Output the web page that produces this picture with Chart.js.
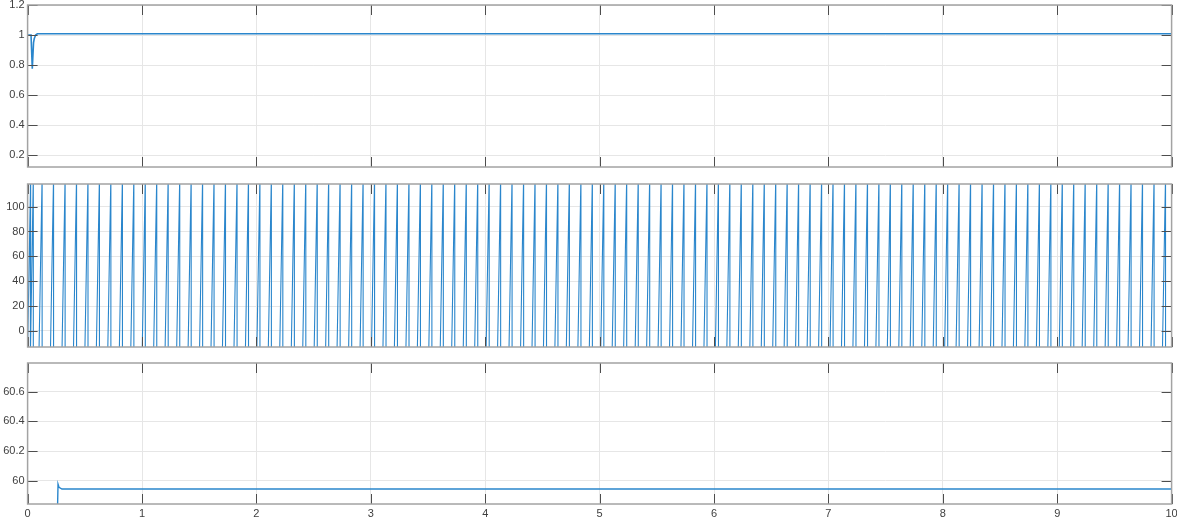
<!DOCTYPE html>
<html>
<head>
<meta charset="utf-8">
<script src="https://cdn.jsdelivr.net/npm/chart.js@4/dist/chart.umd.min.js"></script>
<style>
  html, body { margin: 0; padding: 0; background: #fff; }
  body { width: 1177px; height: 523px; position: relative; overflow: hidden; }
  .pane { position: absolute; left: 0; width: 1177px; }
</style>
</head>
<body>
<div class="pane" style="top:0;height:172px"><canvas id="c1"></canvas></div>
<div class="pane" style="top:178px;height:174px"><canvas id="c2"></canvas></div>
<div class="pane" style="top:356px;height:167px"><canvas id="c3"></canvas></div>
<script>
// x axis shared by all three scopes (seconds)
const xTicks = [0, 1, 2, 3, 4, 5, 6, 7, 8, 9, 10];

// top scope: per-unit signal, dips at start then settles just above 1
const sig1T = [0, 0.03, 0.041, 0.052, 0.058, 0.07, 0.085, 10];
const sig1V = [1.0, 1.0, 0.775, 0.95, 0.975, 1.0, 1.008, 1.008];
const yTicks1 = [0.2, 0.4, 0.6, 0.8, 1, 1.2];

// middle scope: sawtooth, times where each ramp reaches the top and wraps
const wrapTimes = [0.027, 0.05, 0.127, 0.227, 0.328, 0.428, 0.528, 0.628, 0.728, 0.829, 0.929,
  1.029, 1.129, 1.229, 1.330, 1.430, 1.530, 1.630, 1.730, 1.831, 1.931,
  2.031, 2.131, 2.231, 2.332, 2.432, 2.532, 2.632, 2.732, 2.833, 2.933,
  3.033, 3.133, 3.233, 3.334, 3.434, 3.534, 3.634, 3.734, 3.835, 3.935,
  4.035, 4.135, 4.235, 4.336, 4.436, 4.536, 4.636, 4.736, 4.837, 4.937,
  5.037, 5.137, 5.237, 5.338, 5.438, 5.538, 5.638, 5.738, 5.839, 5.939,
  6.039, 6.139, 6.239, 6.340, 6.440, 6.540, 6.640, 6.740, 6.841, 6.941,
  7.041, 7.141, 7.241, 7.342, 7.442, 7.542, 7.642, 7.742, 7.843, 7.943,
  8.043, 8.143, 8.243, 8.344, 8.444, 8.544, 8.644, 8.744, 8.845, 8.945,
  9.045, 9.145, 9.245, 9.346, 9.446, 9.546, 9.646, 9.746, 9.847, 9.947];
const rampLow = -20;
const rampHigh = 125;
const rampRise = 0.028;
const yTicks2 = [0, 20, 40, 60, 80, 100];

// bottom scope: frequency, appears at ~0.25 s with a small overshoot
const sig3T = [0.253, 0.266, 0.275, 0.30, 10];
const sig3V = [59.5, 59.977, 59.955, 59.944, 59.944];
const yTicks3 = [60, 60.2, 60.4, 60.6];

const BLUE = '#2a86cc';
const FONT = { family: "'Liberation Sans', Arial, sans-serif", size: 11 };

// MATLAB style: full box, ticks pointing inward on every side
const scopeBox = {
  id: 'scopeBox',
  afterDraw(chart) {
    const { ctx, chartArea: a, scales } = chart;
    ctx.save();
    ctx.strokeStyle = '#4d4d4d';
    ctx.lineWidth = 1;
    ctx.beginPath();
    for (const t of scales.x.ticks) {
      const px = Math.round(scales.x.getPixelForValue(t.value)) + 0.5;
      ctx.moveTo(px, a.top); ctx.lineTo(px, a.top + 10);
      ctx.moveTo(px, a.bottom); ctx.lineTo(px, a.bottom - 10);
    }
    for (const t of scales.y.ticks) {
      const py = Math.round(scales.y.getPixelForValue(t.value)) + 0.5;
      ctx.moveTo(a.left, py); ctx.lineTo(a.left + 10, py);
      ctx.moveTo(a.right, py); ctx.lineTo(a.right - 10, py);
    }
    ctx.stroke();
    ctx.strokeStyle = '#a3a3a3';
    ctx.lineWidth = 1.5;
    ctx.strokeRect(a.left, a.top, a.right - a.left, a.bottom - a.top);
    ctx.restore();
  }
};

function makeScope(id, points, yMin, yMax, yTicks, opts) {
  return new Chart(document.getElementById(id), {
    type: 'line',
    data: {
      datasets: [{
        data: points,
        borderColor: BLUE,
        borderWidth: opts.lineWidth,
        pointRadius: 0,
        tension: 0,
        fill: false
      }]
    },
    options: {
      responsive: true,
      maintainAspectRatio: false,
      animation: false,
      events: [],
      layout: { padding: { top: opts.padTop, bottom: opts.padBottom, left: 0, right: 5.4 } },
      plugins: { legend: { display: false }, tooltip: { enabled: false } },
      scales: {
        x: {
          type: 'linear',
          min: 0,
          max: 10,
          afterBuildTicks: (s) => { s.ticks = xTicks.map((v) => ({ value: v })); },
          afterFit: (s) => { s.height = opts.xHeight; s.paddingLeft = 0; s.paddingRight = 0; },
          grid: { color: '#e6e6e6', drawTicks: false },
          border: { display: false },
          ticks: { display: opts.showX, color: '#404040', font: FONT, padding: 3, maxRotation: 0 }
        },
        y: {
          min: yMin,
          max: yMax,
          afterBuildTicks: (s) => { s.ticks = yTicks.map((v) => ({ value: v })); },
          afterFit: (s) => { s.width = 27.6; s.paddingTop = 0; s.paddingBottom = 0; },
          grid: { color: '#e6e6e6', drawTicks: false },
          border: { display: false },
          ticks: { color: '#404040', font: FONT, padding: 3, callback: (v) => String(+v.toFixed(2)) }
        }
      }
    },
    plugins: [scopeBox]
  });
}

const pts1 = sig1T.map((t, i) => ({ x: t, y: sig1V[i] }));
const pts2 = [];
wrapTimes.forEach((w) => {
  pts2.push({ x: w - rampRise, y: rampLow }, { x: w, y: rampHigh }, { x: w, y: rampLow });
});
const pts3 = sig3T.map((t, i) => ({ x: t, y: sig3V[i] }));

makeScope('c1', pts1, 0.12, 1.2, yTicks1, { padTop: 5, padBottom: 5, xHeight: 0, showX: false, lineWidth: 1.6 });
makeScope('c2', pts2, -12.9, 118.2, yTicks2, { padTop: 6, padBottom: 5, xHeight: 0, showX: false, lineWidth: 1.1 });
makeScope('c3', pts3, 59.843, 60.794, yTicks3, { padTop: 7, padBottom: 0, xHeight: 19, showX: true, lineWidth: 1.4 });
</script>
</body>
</html>
